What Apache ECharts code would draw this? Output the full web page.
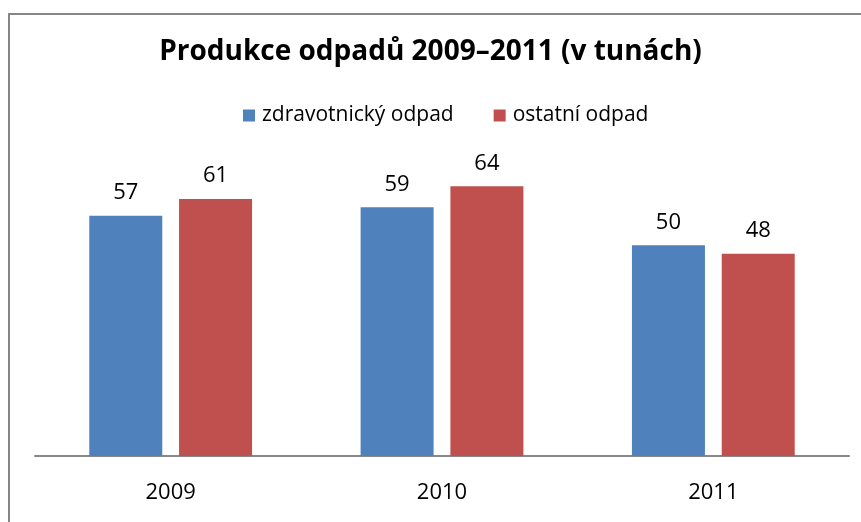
<!DOCTYPE html>
<html>
<head>
<meta charset="utf-8">
<script src="https://cdn.jsdelivr.net/npm/echarts@6/dist/echarts.min.js"></script>
<style>
  html, body { margin: 0; padding: 0; background: #fff; }
  #chart { width: 861px; height: 522px; }
</style>
</head>
<body>
<div id="chart"></div>
<script>
const years = ['2009', '2010', '2011'];
const zdravotnicky = [57, 59, 50];
const ostatni = [61, 64, 48];

const font = '"Open Sans", sans-serif';
const chart = echarts.init(document.getElementById('chart'));

chart.setOption({
    animation: false,
    backgroundColor: '#fff',
    graphic: [
        {
            type: 'rect',
            shape: { x: 9, y: 14, width: 870, height: 530 },
            style: { fill: 'none', stroke: '#868686', lineWidth: 2 },
        },
    ],
    title: {
        text: 'Produkce odpadů 2009–2011 (v tunách)',
        left: 'center',
        top: 33,
        textStyle: { fontFamily: font, fontSize: 28, fontWeight: 'bold', color: '#000' },
    },
    legend: {
        top: 100,
        left: 238,
        itemWidth: 12,
        itemHeight: 12,
        itemGap: 40,
        icon: 'rect',
        textStyle: { fontFamily: font, fontSize: 21, color: '#000', padding: [0, 0, 0, 2] },
    },
    grid: { left: 35, right: 12, top: 161, bottom: 66 },
    xAxis: {
        type: 'category',
        data: years,
        axisTick: { show: false },
        axisLine: { lineStyle: { color: '#888', width: 2 } },
        axisLabel: { fontFamily: font, fontSize: 22, color: '#000', margin: 26 },
    },
    yAxis: {
        type: 'value',
        min: 0,
        max: 70,
        show: false,
    },
    series: [
        { name: 'zdravotnický odpad', data: zdravotnicky, color: '#4F81BD' },
        { name: 'ostatní odpad', data: ostatni, color: '#C0504D' },
    ].map((s) => ({
        ...s,
        type: 'bar',
        barWidth: 73,
        barGap: '23%',
        label: {
            show: true,
            position: 'top',
            distance: 12,
            fontFamily: font,
            fontSize: 22,
            color: '#000',
        },
    })),
});
</script>
</body>
</html>
